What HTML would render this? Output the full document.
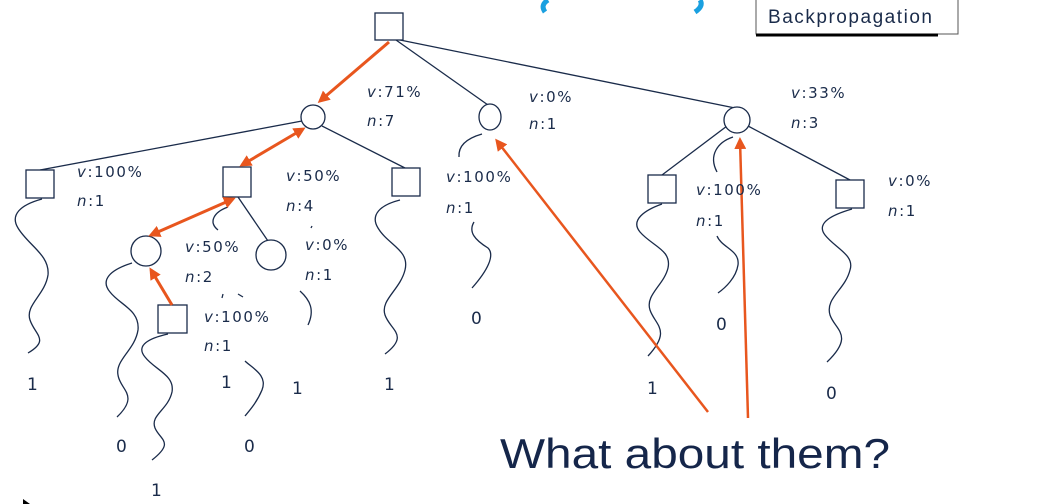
<!DOCTYPE html>
<html><head><meta charset="utf-8"><style>
html,body{margin:0;padding:0;background:#fff;}
svg{display:block;}
text{font-family:"Liberation Sans",sans-serif;fill:#1a2b4a;}
.l text{font-family:"DejaVu Sans",sans-serif;font-size:15px;letter-spacing:1.6px;}
.d text{font-family:"DejaVu Sans",sans-serif;font-size:17px;}
</style></head><body>
<svg width="1062" height="504" viewBox="0 0 1062 504" xmlns="http://www.w3.org/2000/svg">
<defs>
<marker id="ah" markerWidth="12" markerHeight="12" refX="9" refY="6" orient="auto" markerUnits="userSpaceOnUse">
<path d="M0,0 L12,6 L0,12 z" fill="#e8561e"/></marker>
<marker id="as" markerWidth="12" markerHeight="12" refX="3" refY="6" orient="auto" markerUnits="userSpaceOnUse">
<path d="M12,0 L0,6 L12,12 z" fill="#e8561e"/></marker>
</defs>
<path d="M548,0 Q540,5 545,12" stroke="#1aa0e0" stroke-width="5" fill="none"/>
<path d="M700,0 Q704,6 695,12" stroke="#1aa0e0" stroke-width="5" fill="none"/>
<rect x="756" y="-2" width="202" height="36" fill="#fff" stroke="#555" stroke-width="1"/>
<line x1="756" y1="35" x2="938" y2="35" stroke="#000" stroke-width="3"/>
<text x="768" y="23" style="font-size:19px" textLength="164">Backpropagation</text>

<g stroke="#1a2b4a" stroke-width="1.3" fill="none">
<line x1="396" y1="40" x2="488" y2="105"/>
<line x1="400" y1="40" x2="735" y2="108"/>
<line x1="302" y1="121" x2="40" y2="170"/>
<line x1="322" y1="126" x2="405" y2="168"/>
<line x1="238" y1="197" x2="268" y2="241"/>
<line x1="727" y1="126" x2="662" y2="175"/>
<line x1="748" y1="126" x2="850" y2="180"/>
<path d="M42,199 C20,205 10,215 18,228 C28,245 50,255 48,275 C45,295 25,305 30,320 C35,335 50,340 28,353"/>
<path d="M132,263 C110,270 100,280 110,292 C120,305 140,310 138,330 C135,350 115,360 118,375 C120,390 140,395 117,417"/>
<path d="M168,334 C150,338 135,345 145,357 C155,370 175,375 172,392 C168,410 150,415 155,428 C160,440 175,442 152,460"/>
<path d="M228,207 C214,212 208,222 218,230"/>
<path d="M300,291 C310,300 315,310 308,325"/>
<path d="M245,361 C252,368 268,375 262,390 C257,402 250,410 245,416"/>
<path d="M400,200 C380,205 370,215 378,228 C388,245 410,250 405,270 C400,290 380,300 385,315 C390,330 410,335 385,354"/>
<path d="M482,134 C468,138 458,145 459,157"/>
<path d="M474,222 C468,232 475,240 488,248 C495,255 488,270 472,288"/>
<path d="M662,204 C645,210 630,220 640,232 C652,246 672,250 668,268 C664,285 645,295 650,310 C655,325 672,330 648,356"/>
<path d="M733,137 C718,142 708,155 717,172"/>
<path d="M717,236 C722,248 740,250 738,265 C736,278 725,288 718,293"/>
<path d="M852,209 C835,214 815,222 825,235 C835,248 855,255 850,270 C845,290 825,298 830,315 C835,330 855,335 827,362"/>
<path d="M223,294 l-1,4 M238,294 l5,3 M312,226 l-1,2"/>
<rect x="375" y="13" width="28" height="27" fill="#fff"/>
<circle cx="313" cy="117" r="12" fill="#fff"/>
<ellipse cx="490" cy="117" rx="11" ry="13" fill="#fff"/>
<circle cx="737" cy="120" r="13" fill="#fff"/>
<rect x="26" y="170" width="28" height="28" fill="#fff"/>
<rect x="223" y="167" width="28" height="30" fill="#fff"/>
<rect x="392" y="168" width="28" height="28" fill="#fff"/>
<circle cx="146" cy="251" r="15" fill="#fff"/>
<circle cx="271" cy="255" r="15" fill="#fff"/>
<rect x="158" y="305" width="29" height="28" fill="#fff"/>
<rect x="648" y="175" width="28" height="28" fill="#fff"/>
<rect x="836" y="180" width="28" height="28" fill="#fff"/>
</g>

<g stroke="#e8561e" stroke-width="3" fill="none">
<line x1="389" y1="42" x2="320" y2="101" marker-end="url(#ah)"/>
<line x1="303" y1="129" x2="242" y2="165" marker-start="url(#as)" marker-end="url(#ah)"/>
<line x1="233" y1="199" x2="151" y2="235" marker-start="url(#as)" marker-end="url(#ah)"/>
<line x1="172" y1="305" x2="151" y2="270" marker-end="url(#ah)"/>
<line x1="708" y1="412" x2="497" y2="141" stroke-width="2.5" marker-end="url(#ah)"/>
<line x1="748" y1="418" x2="740" y2="140" stroke-width="2.5" marker-end="url(#ah)"/>
</g>

<g class="l">
<text x="367" y="97"><tspan font-style="italic">v</tspan>:71%</text>
<text x="367" y="126"><tspan font-style="italic">n</tspan>:7</text>
<text x="529" y="102"><tspan font-style="italic">v</tspan>:0%</text>
<text x="529" y="129"><tspan font-style="italic">n</tspan>:1</text>
<text x="791" y="98"><tspan font-style="italic">v</tspan>:33%</text>
<text x="791" y="128"><tspan font-style="italic">n</tspan>:3</text>
<text x="77" y="177"><tspan font-style="italic">v</tspan>:100%</text>
<text x="77" y="206"><tspan font-style="italic">n</tspan>:1</text>
<text x="286" y="181"><tspan font-style="italic">v</tspan>:50%</text>
<text x="286" y="211"><tspan font-style="italic">n</tspan>:4</text>
<text x="185" y="252"><tspan font-style="italic">v</tspan>:50%</text>
<text x="185" y="282"><tspan font-style="italic">n</tspan>:2</text>
<text x="305" y="250"><tspan font-style="italic">v</tspan>:0%</text>
<text x="305" y="280"><tspan font-style="italic">n</tspan>:1</text>
<text x="204" y="322"><tspan font-style="italic">v</tspan>:100%</text>
<text x="204" y="351"><tspan font-style="italic">n</tspan>:1</text>
<text x="446" y="182"><tspan font-style="italic">v</tspan>:100%</text>
<text x="446" y="213"><tspan font-style="italic">n</tspan>:1</text>
<text x="696" y="195"><tspan font-style="italic">v</tspan>:100%</text>
<text x="696" y="226"><tspan font-style="italic">n</tspan>:1</text>
<text x="888" y="186"><tspan font-style="italic">v</tspan>:0%</text>
<text x="888" y="216"><tspan font-style="italic">n</tspan>:1</text>
</g>
<g class="d">
<text x="27" y="390">1</text>
<text x="116" y="452">0</text>
<text x="151" y="496">1</text>
<text x="221" y="388">1</text>
<text x="244" y="452">0</text>
<text x="292" y="394">1</text>
<text x="384" y="390">1</text>
<text x="471" y="324">0</text>
<text x="647" y="394">1</text>
<text x="716" y="330">0</text>
<text x="826" y="399">0</text>
</g>
<text x="500" y="468" style="font-size:42px;fill:#15264a" textLength="390" lengthAdjust="spacingAndGlyphs">What about them?</text>
<path d="M23,499 L30,504 L23,504 z" fill="#000"/>
</svg>
</body></html>
